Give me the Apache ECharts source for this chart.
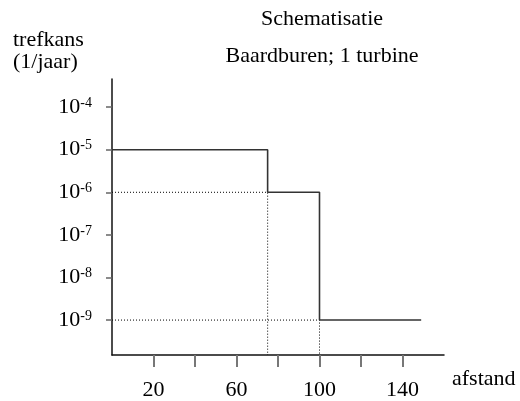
<!DOCTYPE html>
<html><head><meta charset="utf-8">
<script src="https://cdn.jsdelivr.net/npm/echarts@6/dist/echarts.min.js"></script>
<style>html,body{margin:0;padding:0;background:#fff}#c{width:520px;height:401px}</style>
</head><body><div id="c"></div>
<script>
// ---- data ----
const titleLines = ['Schematisatie', 'Baardburen; 1 turbine'];
const yAxisTitle = ['trefkans', '(1/jaar)'];
const xAxisTitle = 'afstand';
const stepX = [0, 75, 100, 149];          // afstand break points
const stepLevels = [1e-5, 1e-6, 1e-9];    // trefkans per segment
const xTicks = [20, 40, 60, 80, 100, 120, 140];
const xTickLabels = [20, 60, 100, 140];
const yTicks = [1e-4, 1e-5, 1e-6, 1e-7, 1e-8, 1e-9];
const yExponents = ['-4', '-5', '-6', '-7', '-8', '-9'];
const xRange = [0, 160];
const yRange = [Math.pow(10, -9.82), Math.pow(10, -3.34)];

// ---- build ----
const FONT = 'Liberation Serif';
const stepData = [];
stepLevels.forEach((lv, i) => { stepData.push([stepX[i], lv], [stepX[i + 1], lv]); });
const guideSeries = [];
for (let i = 1; i < stepLevels.length; i++) {
  guideSeries.push({
    type: 'line', symbol: 'none', silent: true, z: 1,
    data: [[xRange[0], stepLevels[i]], [stepX[i], stepLevels[i]], [stepX[i], yRange[0]]],
    lineStyle: { color: '#000', width: 1, type: [1, 2] }
  });
}
const chart = echarts.init(document.getElementById('c'), null, { renderer: 'canvas' });
chart.setOption({
  animation: false,
  backgroundColor: '#fff',
  textStyle: { fontFamily: FONT },
  grid: { left: 112, right: 76, top: 79, bottom: 45 },
  xAxis: {
    type: 'value', min: xRange[0], max: xRange[1], interval: 20,
    name: xAxisTitle, nameLocation: 'end', nameGap: 8,
    nameTextStyle: { fontFamily: FONT, fontSize: 22, color: '#000', align: 'left', verticalAlign: 'top', padding: [13, 0, 0, 0] },
    axisLine: { show: true, onZero: false, lineStyle: { color: '#111', width: 1.5 } },
    axisTick: { show: true, customValues: xTicks, length: 12, lineStyle: { color: '#777', width: 2 } },
    axisLabel: { customValues: xTickLabels, margin: 24, fontFamily: FONT, fontSize: 22, color: '#000' },
    splitLine: { show: false }
  },
  yAxis: {
    type: 'log', logBase: 10, min: yRange[0], max: yRange[1],
    axisLine: { show: true, onZero: false, lineStyle: { color: '#111', width: 1.5 } },
    axisTick: { show: true, customValues: yTicks, length: 6, lineStyle: { color: '#666', width: 1.5 } },
    axisLabel: {
      customValues: yTicks, margin: 20,
      formatter: function (v) {
        let idx = 0, best = 1e9;
        yTicks.forEach((t, i) => { const d = Math.abs(Math.log10(t) - Math.log10(v)); if (d < best) { best = d; idx = i; } });
        return '{b|10}{s|' + yExponents[idx] + '}';
      },
      rich: {
        b: { fontFamily: FONT, fontSize: 22, color: '#000' },
        s: { fontFamily: FONT, fontSize: 14, color: '#000', verticalAlign: 'top' }
      }
    },
    splitLine: { show: false }
  },
  series: guideSeries.concat([{
    type: 'line', symbol: 'none', silent: true, z: 3,
    data: stepData,
    lineStyle: { color: '#333', width: 1.6 }
  }]),
  graphic: [
    { type: 'text', x: 322, y: 8, style: { text: titleLines[0], fontFamily: FONT, fontSize: 22, fill: '#000', align: 'center', verticalAlign: 'top' } },
    { type: 'text', x: 322, y: 45, style: { text: titleLines[1], fontFamily: FONT, fontSize: 22, fill: '#000', align: 'center', verticalAlign: 'top' } },
    { type: 'text', x: 13, y: 29, style: { text: yAxisTitle.join('\n'), fontFamily: FONT, fontSize: 22, lineHeight: 22, fill: '#000', align: 'left', verticalAlign: 'top' } }
  ]
});
</script></body></html>
